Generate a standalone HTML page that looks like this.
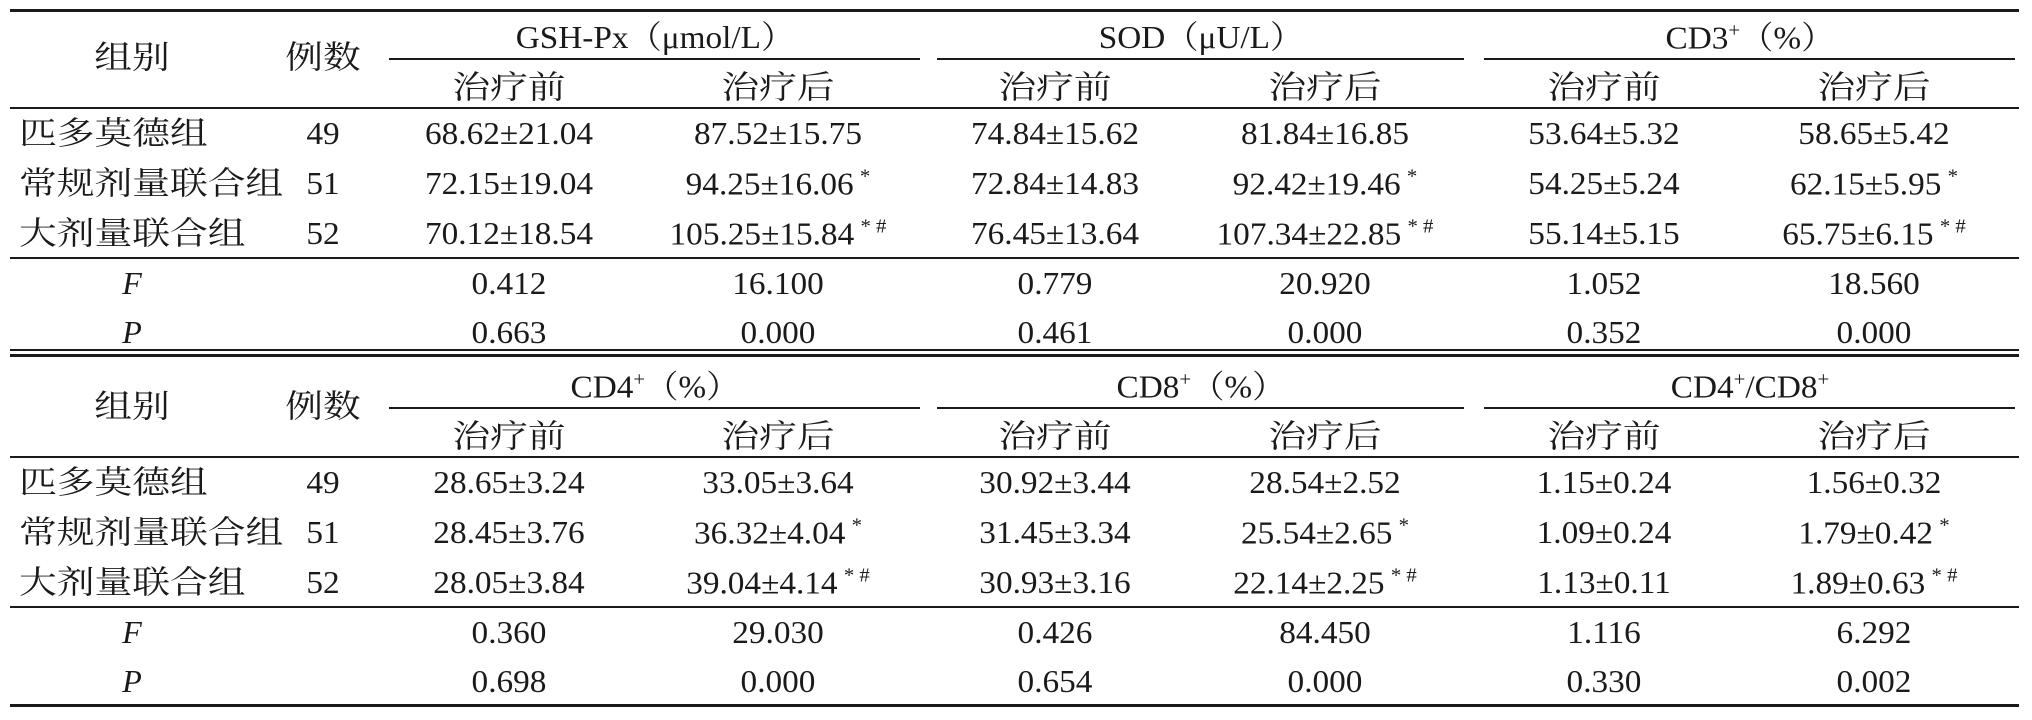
<!DOCTYPE html>
<html><head><meta charset="utf-8">
<style>
html,body{margin:0;padding:0;background:#fff;}
#t{position:relative;width:2032px;height:720px;overflow:hidden;background:#fff;color:#1a1a1a;}
.c{position:absolute;white-space:nowrap;transform:translate(-50%,-50%);font-family:"Liberation Serif","Noto Serif CJK SC",serif;font-size:32px;line-height:1;}
.n{display:inline-block;transform:scaleX(1.04);}
.zh{font-family:"Liberation Serif","Noto Serif CJK SC",serif;font-size:32px;}
.zh .w{display:inline-block;transform:scaleX(1.18);transform-origin:left center;}
.zhc .w{transform-origin:center center;}
.l{position:absolute;background:#1a1a1a;}
sup{font-size:20px;vertical-align:12px;margin-left:6px;}
.it{font-style:italic;}
</style></head>
<body>
<div id="t"></div>
<script>
const groups=["匹多莫德组","常规剂量联合组","大剂量联合组"];
const counts=["49","51","52"];
const headers1=["GSH-Px（μmol/L）","SOD（μU/L）","CD3<sup style='margin:0'>+</sup>（%）"];
const headers2=["CD4<sup style='margin:0'>+</sup>（%）","CD8<sup style='margin:0'>+</sup>（%）","CD4<sup style='margin:0'>+</sup>/CD8<sup style='margin:0'>+</sup>"];
const rows1=[
["68.62±21.04","87.52±15.75","74.84±15.62","81.84±16.85","53.64±5.32","58.65±5.42"],
["72.15±19.04","94.25±16.06|*","72.84±14.83","92.42±19.46|*","54.25±5.24","62.15±5.95|*"],
["70.12±18.54","105.25±15.84|*#","76.45±13.64","107.34±22.85|*#","55.14±5.15","65.75±6.15|*#"]];
const f1=["0.412","16.100","0.779","20.920","1.052","18.560"];
const p1=["0.663","0.000","0.461","0.000","0.352","0.000"];
const rows2=[
["28.65±3.24","33.05±3.64","30.92±3.44","28.54±2.52","1.15±0.24","1.56±0.32"],
["28.45±3.76","36.32±4.04|*","31.45±3.34","25.54±2.65|*","1.09±0.24","1.79±0.42|*"],
["28.05±3.84","39.04±4.14|*#","30.93±3.16","22.14±2.25|*#","1.13±0.11","1.89±0.63|*#"]];
const f2=["0.360","29.030","0.426","84.450","1.116","6.292"];
const p2=["0.698","0.000","0.654","0.000","0.330","0.002"];

const T=document.getElementById('t');
const colX=[509,778,1055,1325,1604,1874];
const spanX=[[389,920],[937,1464],[1484,2015]];
function txt(x,y,html,cls,name,left){
  const d=document.createElement('div');
  d.className='c '+(cls||'');
  d.style.left=x+'px';d.style.top=y+'px';
  if(left)d.style.transform='translate(0,-50%)';
  d.innerHTML=html;
  
  
  T.appendChild(d);
}
function line(x1,x2,y,h,name){
  const d=document.createElement('div');
  d.className='l';
  d.style.left=x1+'px';d.style.width=(x2-x1)+'px';d.style.top=(y-h/2)+'px';d.style.height=h+'px';
  
  
  T.appendChild(d);
}
function val(s){
  const p=s.split('|');
  return '<span class="n">'+p[0]+(p[1]?'<sup>'+p[1].split('').join(' ')+'</sup>':'')+'</span>';
}
function zh(s){return '<span class="w">'+s+'</span>';}
function block(y0,headers,rows,f,p,top,bottom){
  line(10,2019,top,3,'top-rule');
  txt(132,y0+20,zh('组别'),'zh zhc','group-header');
  txt(323,y0+20,zh('例数'),'zh zhc','count-header');
  headers.forEach((h,i)=>{
    txt((spanX[i][0]+spanX[i][1])/2,y0,'<span class="n">'+h+'</span>','','metric-header');
    line(spanX[i][0],spanX[i][1],y0+22,1.5,'header-span-rule');
  });
  colX.forEach((x,i)=>txt(x,y0+50,zh(i%2==0?'治疗前':'治疗后'),'zh zhc','time-subheader'));
  line(10,2019,y0+71,1.5,'header-bottom-rule');
  rows.forEach((r,ri)=>{
    const y=y0+96+ri*50;
    txt(19,y,zh(groups[ri]),'zh','group-name',true);
    txt(323,y,'<span class="n">'+counts[ri]+'</span>','','group-count');
    r.forEach((v,ci)=>txt(colX[ci],y,val(v),'','cell-value'));
  });
  line(10,2019,y0+221,1.5,'stats-rule');
  txt(132,y0+246,'F','it','f-label');
  txt(132,y0+295,'P','it','p-label');
  f.forEach((v,i)=>txt(colX[i],y0+246,val(v),'','f-value'));
  p.forEach((v,i)=>txt(colX[i],y0+295,val(v),'','p-value'));
  line(10,2019,bottom,bottom>700?3:1.5,'bottom-rule');
}
block(37,headers1,rows1,f1,p1,10,350);
block(386,headers2,rows2,f2,p2,355,705);
</script>
</body></html>
